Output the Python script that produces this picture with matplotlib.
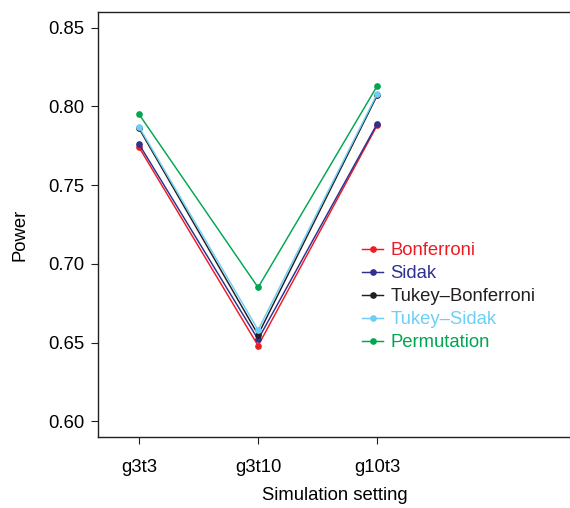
import numpy as np
import matplotlib
matplotlib.use("Agg")
import matplotlib.pyplot as plt

plt.rcParams["font.family"] = ["Liberation Sans", "DejaVu Sans"]

## Data
settings = ["g3t3", "g3t10", "g10t3"]
methods = ["Bonferroni", "Sidak", "Tukey\u2013Bonferroni", "Tukey\u2013Sidak", "Permutation"]
bonferroni = [0.774, 0.648, 0.788]
sidak = [0.776, 0.652, 0.789]
tukey_bonferroni = [0.786, 0.655, 0.807]
tukey_sidak = [0.787, 0.658, 0.808]
permutation = [0.795, 0.685, 0.813]
colors = ["#ED1C24", "#2E3192", "#231F20", "#6DCFF6", "#00A651"]
yticks = [0.60, 0.65, 0.70, 0.75, 0.80, 0.85]

series = [bonferroni, sidak, tukey_bonferroni, tukey_sidak, permutation]
x = np.arange(1, len(settings) + 1)

W, H = 570, 508
fs = 13.3
fig = plt.figure(figsize=(W / 100, H / 100), dpi=100)
ax = fig.add_axes([98 / W, (H - 437) / H, (W - 98) / W, (437 - 12) / H])

for name, vals, col in zip(methods, series, colors):
    ax.plot(x, vals, color=col, lw=1.05, marker="o", ms=3.8, label=name)

ax.set_xlim(0.655, 4.62)
ax.set_ylim(0.59, 0.86)
ax.set_xticks(x)
ax.set_xticklabels(settings)
ax.set_yticks(yticks)
ax.set_yticklabels(["%.2f" % v for v in yticks])
ax.tick_params(labelsize=fs, length=5, width=0.8, color="#231F20")
ax.tick_params(axis="x", pad=11)
ax.tick_params(axis="y", pad=4.5)
ax.spines["right"].set_visible(False)
for s in ["left", "bottom", "top"]:
    ax.spines[s].set_linewidth(1.0)
    ax.spines[s].set_color("#231F20")

ax.set_xlabel("Simulation setting", fontsize=fs, va="top")
ax.xaxis.set_label_coords((335 - 98) / 472, (437 - 487) / 425)
ax.set_ylabel("Power", fontsize=fs)
ax.yaxis.set_label_coords((29 - 98) / 472, (437 - 235) / 425)

leg = ax.legend(loc="upper left", bbox_to_anchor=(362 / W, (H - 242) / H),
                bbox_transform=fig.transFigure, frameon=False, fontsize=fs,
                handlelength=1.14, handletextpad=0.4, labelspacing=0.33,
                borderpad=0, borderaxespad=0)
for txt, col in zip(leg.get_texts(), colors):
    txt.set_color(col)

fig.savefig("out.png", dpi=100)
